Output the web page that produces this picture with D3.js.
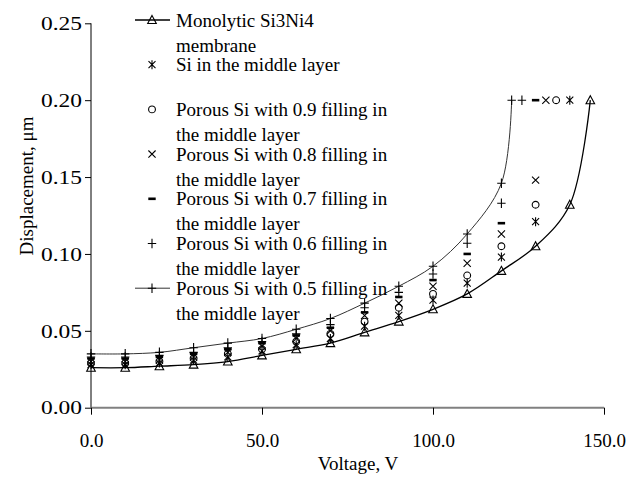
<!DOCTYPE html>
<html>
<head>
<meta charset="utf-8">
<script src="https://cdn.jsdelivr.net/npm/d3@7"></script>
<style>
  body { margin: 0; background: #fff; }
  svg { display: block; font-family: 'Liberation Serif', 'Times New Roman', serif; }
</style>
</head>
<body>
<svg id="chart" width="640" height="482"></svg>
<script>
'use strict';

// voltages for the regular measurement points
var volts = [0, 10, 20, 30, 40, 50, 60, 70, 80, 90, 100, 110, 120, 130, 140];

// displacement (um) per series, last value is the pull-in point at 0.20
var mono = [0.026, 0.026, 0.027, 0.028, 0.030, 0.034, 0.038, 0.042, 0.049, 0.056, 0.064, 0.074, 0.089, 0.105, 0.132];
var monoEnd = [146, 0.200];
var siMid = [0.028, 0.028, 0.029, 0.031, 0.033, 0.037, 0.041, 0.045, 0.053, 0.060, 0.070, 0.081, 0.098, 0.121];
var siMidEnd = [140, 0.200];
var fill09 = [0.029, 0.029, 0.030, 0.032, 0.035, 0.038, 0.043, 0.048, 0.056, 0.065, 0.074, 0.086, 0.105, 0.132];
var fill09End = [136, 0.200];
var fill08 = [0.030, 0.030, 0.031, 0.033, 0.036, 0.040, 0.045, 0.050, 0.060, 0.068, 0.079, 0.094, 0.113, 0.148];
var fill08End = [133, 0.200];
var fill07 = [0.032, 0.032, 0.033, 0.035, 0.038, 0.042, 0.047, 0.052, 0.062, 0.072, 0.083, 0.100, 0.120];
var fill07End = [130, 0.200];
var fill06 = [0.033, 0.033, 0.034, 0.036, 0.039, 0.043, 0.048, 0.054, 0.065, 0.075, 0.087, 0.107, 0.133];
var fill06End = [126, 0.200];
var fill05 = [0.035, 0.035, 0.036, 0.039, 0.042, 0.045, 0.051, 0.058, 0.068, 0.079, 0.092, 0.113, 0.146];
var fill05End = [123, 0.200];

var legendLabels = [
    ['Monolytic Si3Ni4', 'membrane'],
    ['Si in the middle layer'],
    ['Porous Si with 0.9 filling in', 'the middle layer'],
    ['Porous Si with 0.8 filling in', 'the middle layer'],
    ['Porous Si with 0.7 filling in', 'the middle layer'],
    ['Porous Si with 0.6 filling in', 'the middle layer'],
    ['Porous Si with 0.5 filling in', 'the middle layer']
];

var xTicks = [0, 50, 100, 150];
var yTicks = [0, 0.05, 0.10, 0.15, 0.20, 0.25];

function toPoints(vals, end) {
    var pts = vals.map(function(v, i) { return [volts[i], v]; });
    pts.push(end);
    return pts;
}

var series = [
    { pts: toPoints(mono, monoEnd), marker: 'triangle', line: true, stroke: '#000', width: 1.3 },
    { pts: toPoints(siMid, siMidEnd), marker: 'asterisk', line: false },
    { pts: toPoints(fill09, fill09End), marker: 'circle', line: false },
    { pts: toPoints(fill08, fill08End), marker: 'cross', line: false },
    { pts: toPoints(fill07, fill07End), marker: 'dash', line: false },
    { pts: toPoints(fill06, fill06End), marker: 'plus', line: false },
    { pts: toPoints(fill05, fill05End), marker: 'plus', line: true, stroke: '#333', width: 1 }
];

var svg = d3.select('#chart');

var x = d3.scaleLinear().domain([0, 150]).range([91, 604]);
var y = d3.scaleLinear().domain([0, 0.25]).range([407.7, 23.3]);

function drawMarker(g, type, cx, cy) {
    var m = g.append('g').attr('transform', 'translate(' + cx + ',' + cy + ')')
        .attr('fill', 'none').attr('stroke', '#000').attr('stroke-width', 1.1);
    if (type === 'triangle') {
        m.append('path').attr('d', 'M0,-4.5L4.3,3.5L-4.3,3.5Z');
    } else if (type === 'asterisk') {
        m.append('path').attr('d', 'M-3.5,-3.5L3.5,3.5M-3.5,3.5L3.5,-3.5M0,-4.5L0,4.5');
    } else if (type === 'circle') {
        m.append('circle').attr('r', 3.4);
    } else if (type === 'cross') {
        m.append('path').attr('d', 'M-3.6,-3.6L3.6,3.6M-3.6,3.6L3.6,-3.6');
    } else if (type === 'dash') {
        m.append('rect').attr('x', -3.7).attr('y', -1.3).attr('width', 7.4).attr('height', 2.6)
            .attr('fill', '#000').attr('stroke', 'none');
    } else if (type === 'plus') {
        m.append('path').attr('d', 'M-4.2,0L4.2,0M0,-4.8L0,4.8');
    }
}

// axes
var yAxis = svg.append('g').attr('transform', 'translate(91,0)')
    .call(d3.axisLeft(y).tickValues(yTicks).tickFormat(d3.format('.2f')).tickSize(6).tickPadding(3));
yAxis.select('.domain').attr('stroke', '#000').attr('d', 'M0,' + y(0.25) + 'V' + y(0));
yAxis.selectAll('.tick line').attr('stroke', '#000');
yAxis.selectAll('.tick text')
    .attr('font-size', 19).attr('font-family', 'Liberation Serif').attr('fill', '#000')
    .attr('dy', '0.33em')
    .attr('textLength', 41).attr('lengthAdjust', 'spacingAndGlyphs');

var xAxis = svg.append('g').attr('transform', 'translate(0,' + y(0) + ')')
    .call(d3.axisBottom(x).tickValues(xTicks).tickFormat(d3.format('.1f')).tickSize(7).tickPadding(19));
xAxis.select('.domain').attr('stroke', '#808080').attr('stroke-width', 2)
    .attr('d', 'M' + x(0) + ',0H' + x(150));
xAxis.selectAll('.tick line').attr('stroke', '#000');
xAxis.selectAll('.tick text')
    .attr('font-size', 19).attr('font-family', 'Liberation Serif').attr('fill', '#000');

// axis titles
svg.append('text')
    .attr('x', 358).attr('y', 470)
    .attr('text-anchor', 'middle').attr('font-size', 19)
    .text('Voltage, V');

svg.append('text')
    .attr('transform', 'translate(33,186) rotate(-90)')
    .attr('text-anchor', 'middle').attr('font-size', 19)
    .text('Displacement, \u03bcm');

// lines
var line = d3.line()
    .x(function(d) { return x(d[0]); })
    .y(function(d) { return y(d[1]); })
    .curve(d3.curveCatmullRom.alpha(0.5));

var plot = svg.append('g');
series.forEach(function(s) {
    if (s.line) {
        plot.append('path').datum(s.pts)
            .attr('d', line)
            .attr('fill', 'none')
            .attr('stroke', s.stroke)
            .attr('stroke-width', s.width);
    }
});

series.forEach(function(s) {
    s.pts.forEach(function(p) {
        drawMarker(plot, s.marker, x(p[0]), y(p[1]));
    });
});

// legend
var legend = svg.append('g');
legendLabels.forEach(function(lines, i) {
    var ly = 20 + i * 44.7;
    var s = series[i];
    if (s.line) {
        legend.append('line')
            .attr('x1', 135).attr('x2', 170).attr('y1', ly).attr('y2', ly)
            .attr('stroke', s.stroke).attr('stroke-width', s.width);
    }
    drawMarker(legend, s.marker, 152, ly);
    var t = legend.append('text').attr('font-size', 19);
    lines.forEach(function(txt, j) {
        t.append('tspan')
            .attr('x', 176)
            .attr('y', ly + 6.5 + j * 25)
            .text(txt);
    });
});
</script>
</body>
</html>
